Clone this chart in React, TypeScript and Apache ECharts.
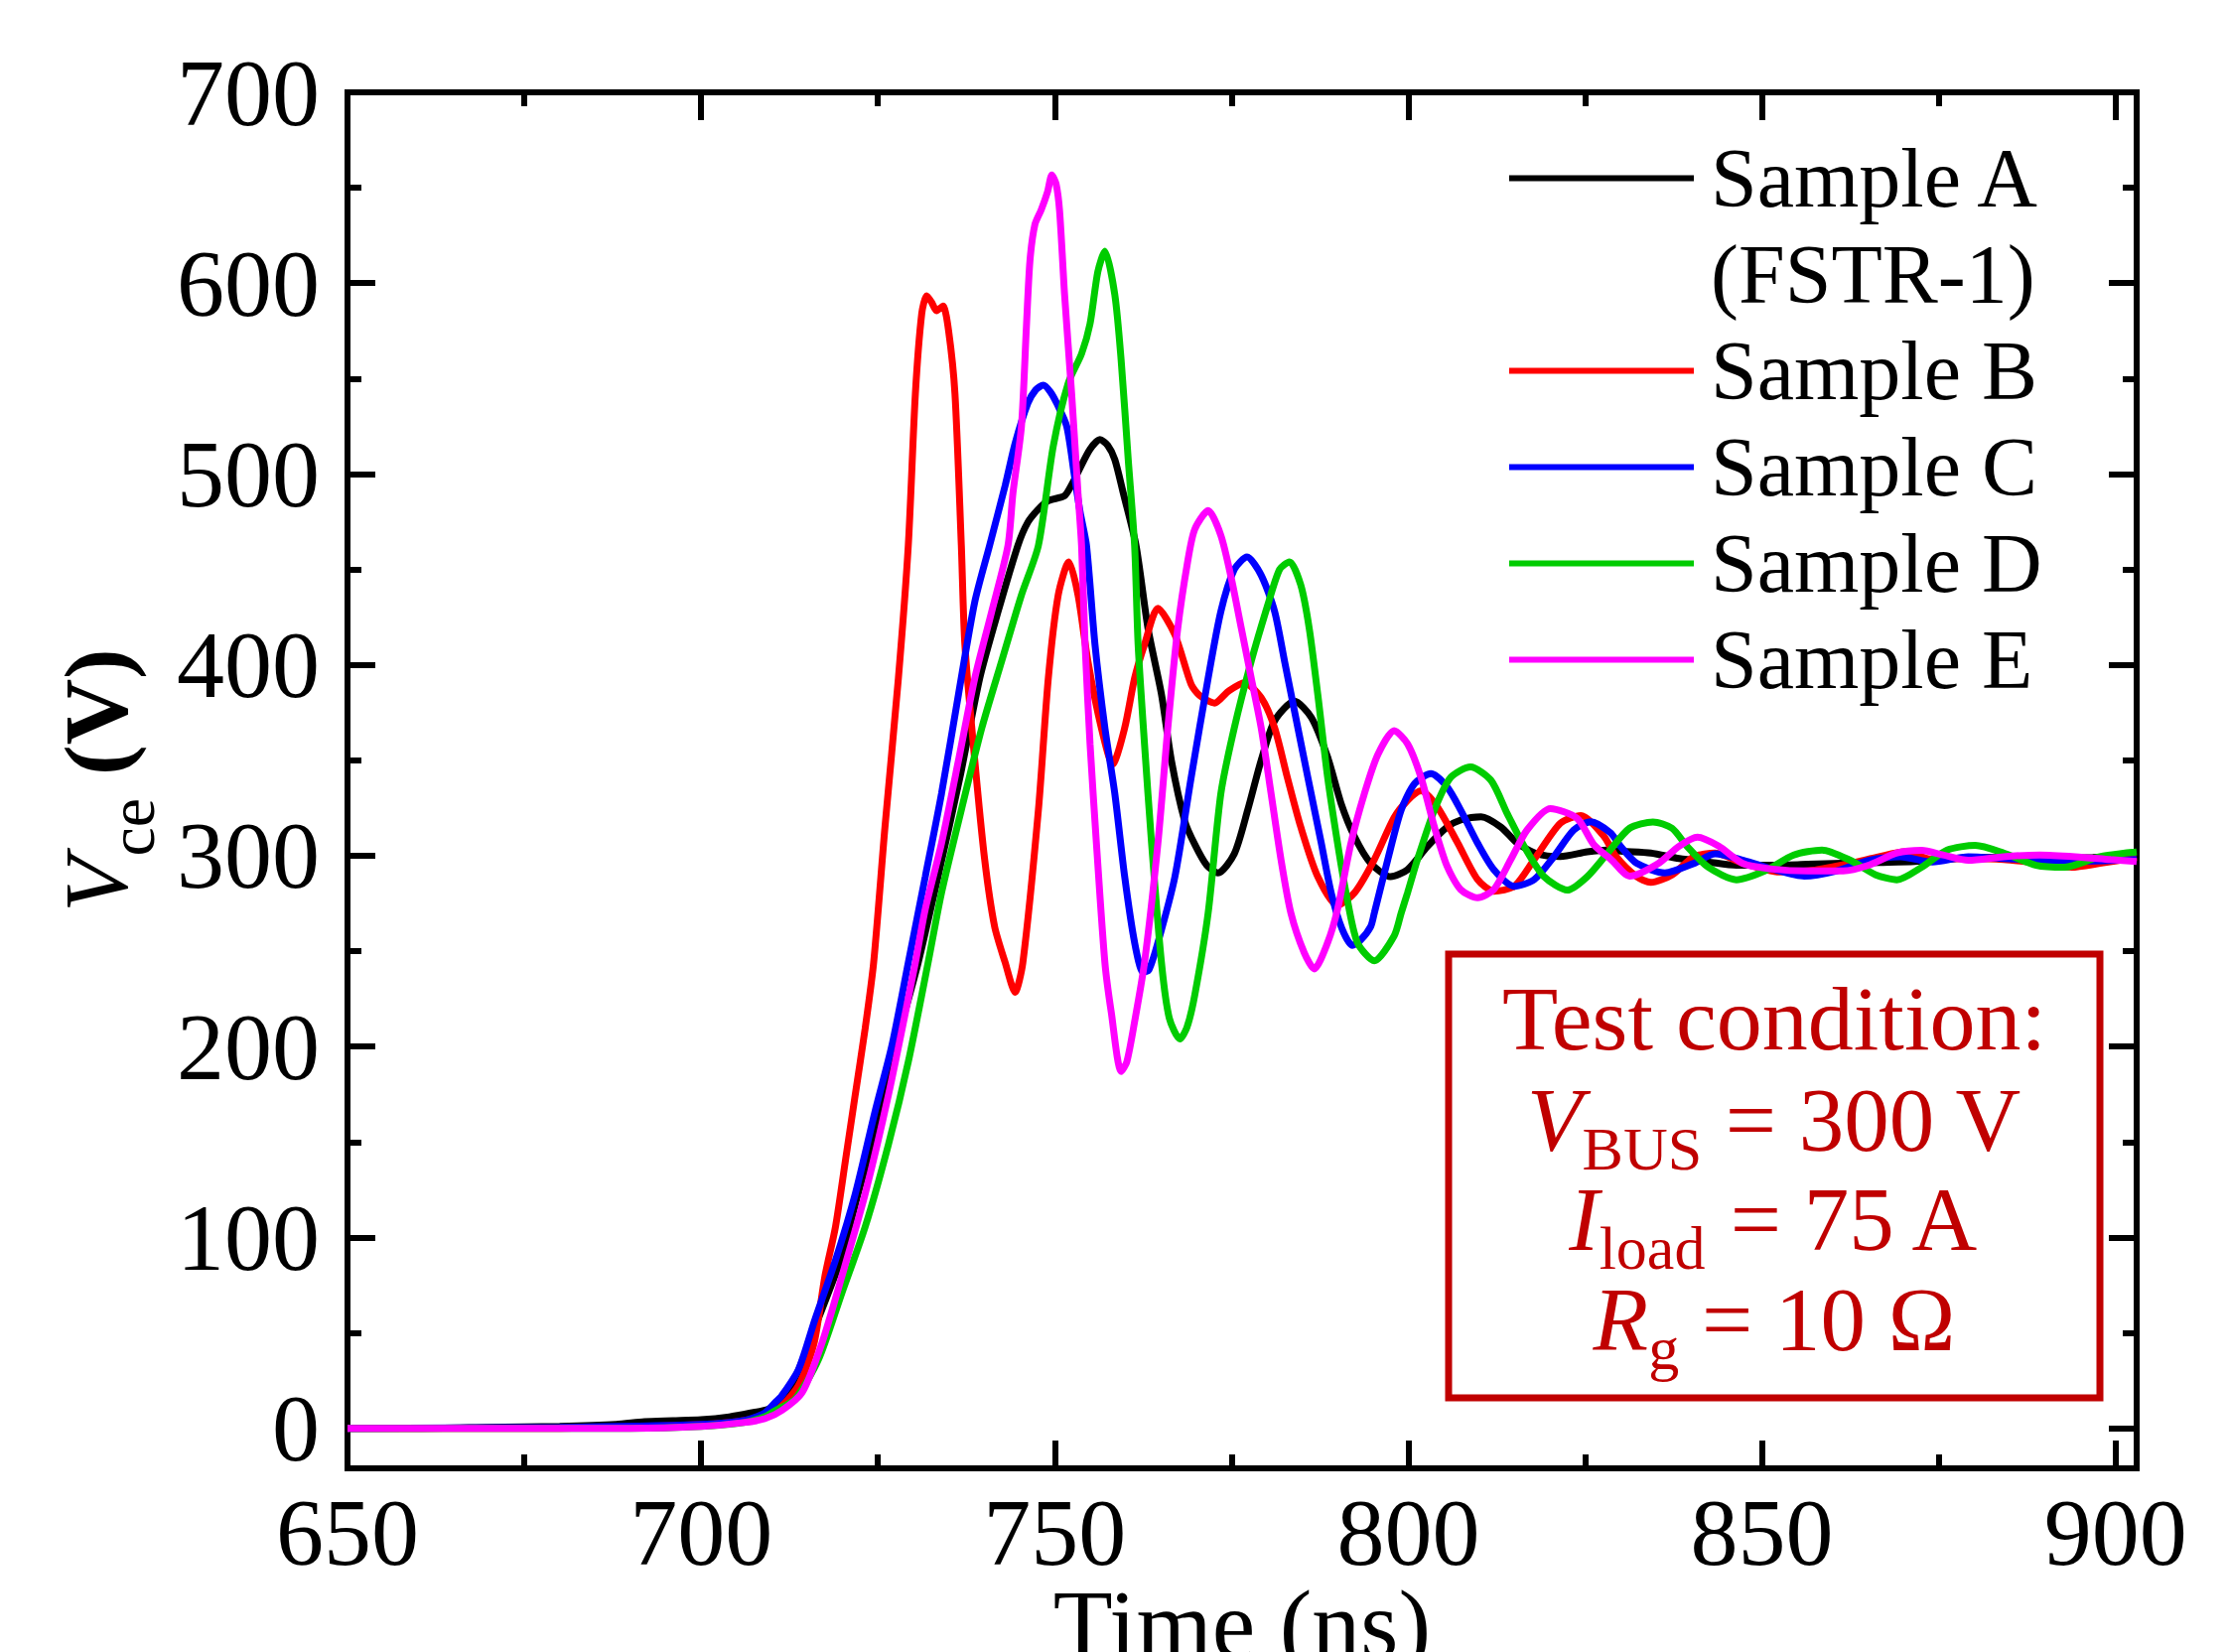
import React, { useEffect, useRef } from 'react';
import * as echarts from 'echarts';

const FONT = '"Liberation Serif", "Times New Roman", serif';
const BOX_RED = '#c00000';

// axis ticks
const xMajorTicks = [650, 700, 750, 800, 850, 900];
const xMinorTicks = [675, 725, 775, 825, 875];
const yMajorTicks = [0, 100, 200, 300, 400, 500, 600, 700];
const yMinorTicks = [50, 150, 250, 350, 450, 550, 650];

const seriesNames = ['Sample A', 'Sample B', 'Sample C', 'Sample D', 'Sample E'];
const seriesColors = ['#000000', '#ff0000', '#0000ff', '#00cc00', '#ff00ff'];

// [time (ns), Vce (V)]
const sampleA: [number, number][] = [
  [650, 0], [660, 0], [670, 0.5], [680, 1], [688, 2], [692, 3.5], [696, 4], [700, 4.5], [704, 6], [707, 8],
  [709.5, 10], [711.5, 15], [713.5, 28], [716, 52], [719.7, 88], [722.2, 123], [725, 160], [727.5, 200],
  [730.7, 244], [733.5, 289], [736.6, 341], [739.4, 393], [742, 428], [744.8, 462.6], [746.2, 474.7],
  [747.7, 481.6], [749.1, 486], [751.4, 488.6], [752.5, 495], [753.5, 502.5], [755, 513], [756.4, 518],
  [757.5, 515], [758.5, 507.6], [759.7, 490], [761.5, 462.6], [763.2, 419], [765.1, 384.6], [766.5, 350],
  [768.4, 318], [769.8, 306], [771.5, 295], [773.1, 291], [775.4, 301], [777.3, 324], [779.2, 350],
  [781.1, 370.7], [783.9, 381], [786.3, 372.4], [788.6, 351.6], [790.5, 327.4], [792.4, 310], [794.7, 296],
  [797.5, 289], [799.9, 292.7], [802.7, 304.8], [805.5, 315], [807.4, 318.7], [810.3, 320.4], [813.1, 315],
  [815.4, 306.6], [818.2, 301], [821.5, 299.6], [825.3, 302], [828.1, 303], [830.3, 302.3], [834.3, 301.4],
  [838.3, 298.5], [842.4, 296.7], [846.4, 295], [851.5, 295], [856.5, 295.5], [861.5, 296], [866.6, 296.5],
  [871.6, 297], [876.7, 298.5], [881.7, 299], [886.7, 299], [891.8, 298.5], [896.8, 299], [903, 300]
];

const sampleB: [number, number][] = [
  [650, 0], [680, 0], [700, 2], [706, 4], [710, 8], [712, 14], [714, 24], [716, 45], [717.5, 79.5],
  [719, 105.5], [720.4, 140], [721.8, 174.8], [723.2, 209.5], [724.4, 244], [726, 315], [727.9, 393],
  [729.3, 462.6], [730.3, 542], [731.2, 584], [731.9, 593.4], [732.6, 590], [733.3, 585.6], [734.2, 588],
  [735, 575], [735.9, 542], [736.8, 462.6], [737.3, 410.6], [738.7, 350], [740.1, 298], [741.5, 263],
  [743, 244], [744.4, 228.5], [745.5, 244], [747.7, 324], [749.1, 393], [750.5, 436.6], [752, 454],
  [753.3, 436.6], [754.7, 401.9], [756.6, 367], [758.2, 348], [759.9, 367], [761.3, 393], [762.7, 410.6],
  [764.6, 429.6], [767, 415.8], [769.3, 389.8], [770.5, 384], [772.6, 380], [774.5, 386], [776.8, 390.6],
  [779.2, 382.8], [781.1, 367], [782.9, 341], [784.8, 315], [787.2, 289], [790, 274], [792.4, 280.6],
  [795.2, 298], [798, 320], [799.9, 329], [801.8, 334], [804.1, 325.6], [807, 306.6], [809.8, 287.5],
  [812.1, 281.4], [815, 284], [817.8, 298], [821.5, 317], [824.4, 321], [827.7, 310], [829.3, 300],
  [832.3, 289], [834.3, 286], [837.3, 290], [840.4, 299.5], [843.4, 301.4], [847.4, 296], [852.5, 291.5],
  [857.5, 292.5], [862.5, 296], [866.6, 299.5], [870.1, 302], [874.1, 298], [879.2, 298.5], [884.2, 298],
  [889.3, 296], [893.8, 294], [897.8, 296], [903, 299]
];

const sampleC: [number, number][] = [
  [650, 0], [680, 0.5], [700, 2], [706, 4], [709, 8], [710.5, 13.6], [711.4, 17], [713.8, 31], [716.1, 57],
  [719, 88], [721.8, 122.8], [724.6, 166], [727, 200.8], [729.3, 244], [731.7, 289], [734, 332.6],
  [736.4, 384.6], [738.7, 433], [740.8, 462.6], [743, 494], [744.4, 516], [746.2, 537], [747.3, 544],
  [748.4, 546.6], [749.4, 543], [750.3, 537], [751.7, 525], [752.8, 499], [753.6, 480], [754.5, 462.6],
  [755.7, 410.6], [757.1, 367], [758.5, 332.6], [759.9, 289], [761.3, 254.5], [762.5, 239], [763.3, 240],
  [764.6, 254.5], [767, 289], [769.3, 341], [771.7, 393], [773.5, 428], [775.4, 450], [777.2, 456.5],
  [779.2, 447], [781.1, 428], [782.5, 402], [783.9, 376], [785.8, 341], [787.7, 306.6], [789.1, 280.6],
  [790.6, 262], [792.1, 253], [793.3, 256], [794.7, 263], [795.2, 270], [797.1, 298], [799, 324],
  [800.9, 337.8], [803.2, 343], [805.5, 336], [807.4, 324], [809.8, 306.6], [812.1, 292.7], [815, 284],
  [817.8, 287.5], [820.6, 299.6], [823.4, 313.5], [825.8, 317.8], [828.6, 312], [830, 305], [832.3, 296],
  [836.3, 291], [840.4, 296], [843.4, 301], [847.4, 297.6], [851.5, 293], [856, 289.3], [860.5, 292],
  [865.1, 297.6], [869.6, 299.5], [874.1, 296.7], [879.2, 299.5], [884.2, 298.5], [889.3, 297.6],
  [894.3, 297], [899.3, 297.5], [903, 298]
];

const sampleD: [number, number][] = [
  [650, 0], [690, 0], [700, 1], [706, 3], [709, 6], [710.5, 9.3], [713.3, 15.3], [716.6, 36], [719.9, 70.8],
  [723.2, 105.5], [726.5, 148.8], [729.3, 192], [732.1, 244], [734, 280.6], [736.8, 324], [739.7, 367],
  [742.5, 401.9], [745.3, 436.6], [747.7, 462.6], [749.8, 514.6], [751.9, 547.5], [753.8, 563],
  [755, 578.7], [756.1, 606], [757.1, 616.8], [758.5, 594], [759.4, 559.6], [760.4, 507.6], [761.3, 462.6],
  [761.8, 410.6], [762.7, 358.6], [763.7, 306.6], [765.1, 244], [766.2, 215], [767.7, 204], [768.7, 210],
  [769.8, 226.8], [771.7, 270], [773.5, 332.6], [775.4, 367], [777.8, 402], [780.1, 431], [781.8, 450],
  [783.2, 454], [784.8, 441.8], [786, 419], [787.2, 384.6], [788.6, 341], [790, 306.6], [791.2, 280.6],
  [792.8, 254.5], [795.2, 245], [798, 258], [799, 270], [799.9, 280.6], [801.3, 298], [803.7, 324],
  [806, 341], [808.8, 346.5], [811.7, 339.5], [814, 322], [816.4, 304.8], [819.2, 289], [822.5, 282],
  [825.3, 289], [828.1, 301], [831.3, 314.4], [834.6, 317.7], [837.3, 314.4], [839.4, 305], [842.4, 294],
  [846.4, 287.4], [850.4, 292], [854.5, 300.4], [858.5, 303], [862.5, 297.6], [866.1, 290], [869.1, 287.4],
  [872.6, 294], [876.2, 303], [880.2, 305.4], [884.2, 301.4], [888.8, 295], [892.8, 294], [897.8, 299.5],
  [903, 302]
];

const sampleE: [number, number][] = [
  [650, 0], [690, 0], [700, 1], [706, 3], [709, 5], [711.4, 9.3], [714.3, 18.8], [717.1, 44.8], [719.9, 79.5],
  [723.2, 122.8], [726.5, 174.8], [730.3, 244], [731.7, 272], [734, 306.6], [736.4, 350], [738.7, 393],
  [741.1, 428], [743.4, 462.6], [744.1, 490], [745.3, 525], [746, 577], [746.5, 611.6], [747.2, 630.7],
  [748.1, 638.5], [749, 648], [749.6, 656.7], [750.2, 652], [750.7, 637.6], [751.4, 594], [752.4, 542],
  [753.3, 490], [753.8, 462.6], [754.3, 410.6], [755, 358.6], [755.9, 306.6], [757.1, 244], [758, 218],
  [759.4, 187], [760.2, 192], [761.3, 213], [762.7, 244], [764.6, 306.6], [766, 367], [767.4, 419],
  [768.8, 454], [769.8, 471], [771.7, 480.8], [773.5, 467.8], [775, 445], [776.4, 419], [777.8, 393],
  [779.2, 367], [780.6, 332.6], [782, 298], [783.4, 270], [785.3, 249], [786.7, 240.7], [788.6, 254.5],
  [790, 272], [791.9, 306.6], [793.8, 332.6], [795.7, 353], [798, 365.5], [799.9, 358.6], [801.8, 341],
  [803.7, 315], [805.5, 294.4], [807.4, 282.3], [809.8, 278], [812.1, 282.3], [814.5, 298], [816.8, 313.5],
  [820.1, 324.7], [823.9, 319.5], [826.2, 306], [828.8, 297.6], [831.3, 289.3], [835.3, 295.8],
  [838.3, 305], [840.9, 309.7], [843.9, 305], [847.4, 295.8], [851.5, 293], [856.5, 292], [861.5, 292],
  [865.1, 295], [869.1, 301.4], [872.6, 302.8], [875.6, 300.4], [879.2, 297.6], [884.2, 299.5],
  [889.3, 300.4], [894.3, 299.5], [899.3, 298], [903, 297]
];

const seriesData = [sampleA, sampleB, sampleC, sampleD, sampleE];

export default function App() {
  const ref = useRef<HTMLDivElement>(null);

  useEffect(() => {
    if (!ref.current) return;
    const chart = echarts.init(ref.current, undefined, { renderer: 'svg' });

    const tickStyle = { color: '#000', width: 6 };
    const xBase = {
      type: 'value',
      min: 650,
      max: 903,
      splitLine: { show: false },
      axisLine: { show: false, onZero: false },
    };
    const yBase = {
      type: 'value',
      min: -21,
      max: 700,
      splitLine: { show: false },
      axisLine: { show: false, onZero: false },
    };
    const mk = (base: any, position: string, values: number[], length: number, extra: any = {}) => ({
      ...base,
      position,
      axisTick: { show: true, inside: true, length, lineStyle: tickStyle, customValues: values },
      axisLabel: { show: false },
      ...extra,
    });

    const labelStyle = { fontFamily: FONT, fontSize: 96, color: '#000' };
    const subRich = (size: number, h: number, fill: string) => ({
      fontFamily: FONT, fontSize: size, color: fill, fill, height: h, verticalAlign: 'bottom',
    });

    const option: any = {
      animation: false,
      backgroundColor: '#ffffff',
      grid: {
        left: 350, right: 93, top: 93, bottom: 185,
        show: true, borderColor: '#000', borderWidth: 6, backgroundColor: 'transparent',
        containLabel: false,
        outerBoundsMode: 'none',
      },
      legend: {
        orient: 'vertical',
        left: 1520,
        top: 34,
        padding: 0,
        itemGap: 0,
        itemWidth: 186,
        itemHeight: 6,
        icon: 'rect',
        itemStyle: { borderWidth: 0 },
        selectedMode: false,
        data: seriesNames,
        formatter: (n: string) => (n === 'Sample A' ? '\nSample A\n(FSTR-1)' : n),
        textStyle: { fontFamily: FONT, fontSize: 84, color: '#000', lineHeight: 97, padding: [0, 0, 0, 12] },
      },
      xAxis: [
        mk(xBase, 'bottom', xMajorTicks, 28, {
          axisLabel: { show: true, customValues: xMajorTicks, margin: 16, ...labelStyle },
          name: 'Time (ns)',
          nameLocation: 'middle',
          nameGap: 108,
          nameMoveOverlap: false,
          nameTextStyle: { fontFamily: FONT, fontSize: 98, color: '#000' },
        }),
        mk(xBase, 'bottom', xMinorTicks, 14),
        mk(xBase, 'top', xMajorTicks, 28),
        mk(xBase, 'top', xMinorTicks, 14),
      ],
      yAxis: [
        mk(yBase, 'left', yMajorTicks, 28, {
          axisLabel: { show: true, customValues: yMajorTicks, margin: 28, ...labelStyle },
          name: '{i|V}{s|ce}{b| (V)}',
          nameLocation: 'middle',
          nameGap: 207,
          nameMoveOverlap: false,
          nameTextStyle: {
            fontFamily: FONT, fontSize: 92, color: '#000', lineHeight: 92,
            rich: {
              i: { fontFamily: FONT, fontSize: 92, fontStyle: 'italic', color: '#000', lineHeight: 92 },
              s: subRich(66, 21, '#000'),
              b: { fontFamily: FONT, fontSize: 92, fontWeight: 'bold', color: '#000', lineHeight: 92 },
            },
          },
        }),
        mk(yBase, 'left', yMinorTicks, 14),
        mk(yBase, 'right', yMajorTicks, 28),
        mk(yBase, 'right', yMinorTicks, 14),
      ],
      series: seriesNames.map((name, i) => ({
        name,
        type: 'line',
        xAxisIndex: 0,
        yAxisIndex: 0,
        data: seriesData[i],
        showSymbol: false,
        symbol: 'none',
        smooth: 0.25,
        lineStyle: { color: seriesColors[i], width: 7 },
        itemStyle: { color: seriesColors[i] },
        z: 2 + i,
      })),
      graphic: [
        {
          type: 'rect',
          shape: { x: 1459, y: 961, width: 656, height: 447 },
          style: { fill: 'none', stroke: BOX_RED, lineWidth: 7 },
          z: 10,
        },
        {
          type: 'text', x: 1787, y: 1026, z: 10,
          style: {
            text: 'Test condition:', fontFamily: FONT, fontSize: 92, fill: BOX_RED,
            align: 'center', verticalAlign: 'middle',
          },
        },
        {
          type: 'text', x: 1787, y: 1128, z: 10,
          style: {
            text: '{i|V}{s|BUS}{n| = 300 V}', fontFamily: FONT, fontSize: 91, fill: BOX_RED,
            align: 'center', verticalAlign: 'middle',
            rich: {
              i: { fontFamily: FONT, fontSize: 91, fontStyle: 'italic', fill: BOX_RED },
              s: subRich(62, 34, BOX_RED),
              n: { fontFamily: FONT, fontSize: 91, fill: BOX_RED },
            },
          },
        },
        {
          type: 'text', x: 1787, y: 1228, z: 10,
          style: {
            text: '{i|I}{s|load}{n| = 75 A}', fontFamily: FONT, fontSize: 91, fill: BOX_RED,
            align: 'center', verticalAlign: 'middle',
            rich: {
              i: { fontFamily: FONT, fontSize: 91, fontStyle: 'italic', fill: BOX_RED },
              s: subRich(62, 34, BOX_RED),
              n: { fontFamily: FONT, fontSize: 91, fill: BOX_RED },
            },
          },
        },
        {
          type: 'text', x: 1787, y: 1329, z: 10,
          style: {
            text: '{i|R}{s|g}{n| = 10 Ω}', fontFamily: FONT, fontSize: 91, fill: BOX_RED,
            align: 'center', verticalAlign: 'middle',
            rich: {
              i: { fontFamily: FONT, fontSize: 91, fontStyle: 'italic', fill: BOX_RED },
              s: subRich(62, 34, BOX_RED),
              n: { fontFamily: FONT, fontSize: 91, fill: BOX_RED },
            },
          },
        },
      ],
    };

    chart.setOption(option);
    return () => chart.dispose();
  }, []);

  return (
    <div
      ref={ref}
      style={{ position: 'absolute', left: 0, top: 0, width: 2245, height: 1664, background: '#fff' }}
    />
  );
}
